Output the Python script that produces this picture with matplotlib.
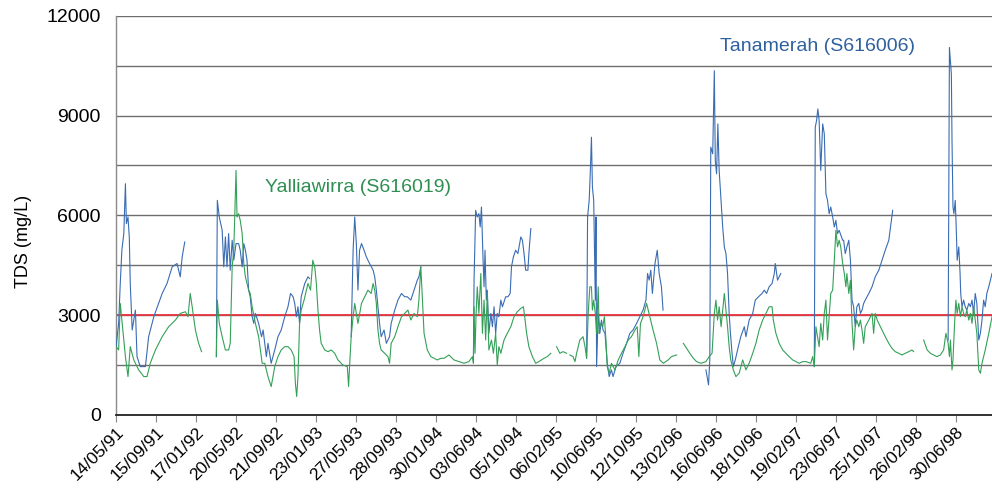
import numpy as np
import pandas as pd
import matplotlib
matplotlib.use('Agg')
import matplotlib.pyplot as plt

plt.rcParams['font.family'] = ['Liberation Sans', 'DejaVu Sans']

# days since 14/05/91, TDS in mg/L (nan = no record)
tan_day = [0, 8, 13, 18, 24, 29, 32, 37, 41, 44, 50, 60, 65, 75, 91, 101, 117, 132, 143, 158, 174, 189, 199, 205, 213,
           260,
           311, 314, 320, 329, 334, 339, 344, 349, 354, 360, 365, 372, 380, 385, 391, 396, 401, 406, 411, 416, 422, 427, 432, 442,
           451, 456, 466, 471, 481, 492, 502, 512, 523, 533, 541, 549, 554, 559, 564, 569, 574, 585, 595, 600,
           660,
           729, 735, 740, 745, 750, 755, 761, 769, 776, 786, 797, 802, 807, 812, 817, 822, 831, 838, 848, 853, 864, 874, 885, 895,
           903, 914, 924, 934, 939, 945,
           1020,
           1108, 1110, 1115, 1120, 1125, 1129, 1133, 1138, 1141, 1144, 1148, 1151, 1156, 1162, 1167, 1172, 1177, 1182, 1187, 1193,
           1198, 1208, 1215, 1222, 1226, 1232, 1239, 1246, 1255, 1260, 1265, 1270, 1277, 1280, 1286,
           1370,
           1459, 1462, 1467, 1471, 1474, 1477, 1481, 1486, 1488, 1490, 1495, 1500, 1505, 1510, 1516, 1523, 1529, 1536, 1541,
           1550, 1562, 1572, 1583, 1593, 1603, 1614, 1624, 1634, 1643, 1648, 1653, 1658, 1663, 1671, 1678, 1684, 1691, 1696,
           1760,
           1829, 1837, 1841, 1844, 1850, 1855, 1858, 1862, 1866, 1870, 1876, 1881, 1886, 1891, 1896, 1901, 1905, 1910, 1914,
           1920, 1927, 1937, 1948, 1953, 1963, 1974, 1982, 1992, 2003, 2010, 2017, 2025, 2034, 2041, 2044, 2051, 2061,
           2110,
           2165, 2168, 2172, 2176, 2180, 2185, 2191, 2196, 2201, 2206, 2211, 2216, 2222, 2227, 2232, 2237, 2242, 2253, 2256, 2261,
           2266, 2272, 2277, 2282, 2287, 2292, 2297, 2303, 2308, 2313, 2318, 2323, 2334, 2344, 2354, 2365, 2375, 2385, 2396, 2404, 2408,
           2500,
           2580, 2584, 2587, 2590, 2592, 2595, 2598, 2602, 2605, 2608, 2613, 2617, 2619, 2623, 2628, 2633, 2638, 2644, 2649, 2654,
           2659, 2664, 2669, 2675, 2680, 2685, 2690, 2695, 2700, 2706, 2716]
tan_tds = [2050, 2750, 3950, 4950, 5450, 6950, 5750, 5950, 5350, 3950, 2550, 3150, 1750, 1450, 1450, 2350, 2950, 3350, 3650, 3950, 4450, 4550, 4150, 4750, 5200,
           np.nan,
           1750, 6450, 5950, 5550, 4450, 5350, 4450, 5450, 4350, 5250, 4650, 5150, 5150, 4950, 4450, 5150, 4950, 4650, 3750, 3550, 2950, 2750, 3050, 2750,
           2350, 2550, 1750, 2150, 1550, 1950, 2350, 2550, 2950, 3250, 3650, 3550, 3350, 2950, 3250, 2750, 3550, 3950, 4150, 4100,
           np.nan,
           2350, 4950, 5950, 5150, 3750, 4950, 5150, 4950, 4750, 4550, 4350, 4150, 3750, 3250, 2750, 2350, 2550, 2150, 2350, 2750, 3150, 3450, 3650, 3550,
           3550, 3450, 3750, 4050, 4150, 4450,
           np.nan,
           1650, 4050, 6150, 5950, 6050, 5650, 6250, 4650, 3850, 4950, 3450, 3750, 2450, 3050, 2650, 3250, 2450, 3050, 2950, 3450,
           3250, 3550, 3550, 3650, 4450, 4750, 4950, 4850, 5350, 5250, 4850, 4350, 4350, 4850, 5600,
           np.nan,
           1700, 5950, 6450, 7450, 8350, 6850, 6450, 3450, 5950, 1450, 3050, 2450, 2850, 2550, 2450, 1550, 1150, 1350, 1150,
           1450, 1550, 1850, 2150, 2450, 2550, 2750, 2950, 3150, 3450, 4250, 4050, 4350, 3650, 4550, 4950, 4250, 3850, 3150,
           np.nan,
           1350, 900, 1650, 8050, 7850, 10350, 7650, 7250, 8750, 7350, 6450, 5650, 5050, 4850, 4250, 3050, 2450, 1850, 1450,
           1650, 1950, 2350, 2650, 2350, 2850, 3050, 3450, 3550, 3650, 3750, 3650, 3850, 3950, 4250, 4550, 4050, 4250,
           np.nan,
           1450, 8650, 8850, 9200, 8850, 7350, 8750, 8450, 6650, 6450, 6050, 6250, 5950, 5650, 5850, 5450, 5550, 5250, 5250, 4850,
           5050, 5250, 4650, 3450, 3250, 2650, 3250, 3350, 3050, 3150, 3350, 3450, 3650, 3850, 4150, 4350, 4650, 4950, 5250, 5850, 6150,
           np.nan,
           2250, 11050, 10650, 10250, 8250, 6250, 6050, 6450, 5650, 4650, 5050, 4250, 3650, 3250, 3450, 3250, 3150, 3350, 3250, 3450,
           3050, 3650, 3350, 2250, 2450, 2850, 3450, 3250, 3650, 3850, 4250]

yal_day = [0, 8, 13, 19, 29, 37, 44, 55, 70, 86, 96, 106, 122, 143, 163, 184, 199, 215, 223, 230, 236, 246, 256, 265,
           288,
           311, 314, 320, 329, 339, 349, 354, 360, 365, 372, 375, 380,
           385, 391, 396, 401, 406, 411, 416, 422, 432, 442, 453, 461,
           471, 481, 492, 502, 512, 523, 533, 543, 552, 556, 560, 564,
           569, 574, 583, 590, 595, 603, 610, 616, 621, 626, 631, 636,
           647, 657, 667, 678, 688, 703, 717, 721, 724, 729, 735, 740,
           750, 761, 771, 781, 791, 797, 802, 807, 812, 817, 822, 833,
           843, 848, 853, 864, 874, 885, 895, 905, 914, 924, 934, 939,
           945, 950, 955, 965, 976, 986, 996, 1007, 1017, 1032, 1048, 1063,
           1079, 1094, 1105, 1108, 1110, 1113, 1116, 1120, 1125, 1131, 1136, 1141,
           1146, 1151, 1156, 1164, 1170, 1177, 1182, 1187, 1193, 1203, 1213, 1224,
           1234, 1244, 1255, 1263, 1267, 1273, 1280, 1291, 1301, 1311, 1327, 1337, 1348,
           1356,
           1366, 1376, 1386, 1397, 1402, 1407, 1417, 1423, 1428, 1438, 1448, 1454,
           1459, 1464, 1469, 1474, 1477, 1481, 1486, 1490, 1495, 1498, 1500, 1509,
           1514, 1519, 1523, 1529, 1536, 1547, 1557, 1567, 1578, 1588, 1598, 1609,
           1616, 1621, 1626, 1634, 1645, 1655, 1665, 1676, 1686, 1697, 1712, 1722,
           1738, 1748, 1759, 1779, 1790, 1800, 1813, 1829, 1839, 1848, 1855, 1860,
           1865, 1870, 1876, 1881, 1886, 1891, 1896, 1901, 1906, 1914, 1922, 1932,
           1943, 1953, 1963, 1974, 1984, 1994, 2005, 2015, 2025, 2034, 2038, 2046,
           2056, 2067, 2077, 2087, 2098, 2108, 2118, 2129, 2139, 2154, 2160, 2165,
           2170, 2175, 2180, 2185, 2191, 2196, 2201, 2206, 2211, 2216, 2222, 2227,
           2232, 2237, 2242, 2247, 2253, 2258, 2263, 2266, 2272, 2277, 2282, 2287,
           2292, 2297, 2303, 2308, 2313, 2318, 2323, 2334, 2344, 2349, 2354, 2360,
           2365, 2375, 2385, 2396, 2406, 2416, 2427, 2437, 2447, 2458, 2468, 2473,
           2485, 2504, 2515, 2525, 2535, 2545, 2556, 2566, 2573, 2580, 2584, 2587,
           2592, 2595, 2600, 2604, 2608, 2613, 2618, 2623, 2628, 2633, 2638, 2644,
           2649, 2654, 2659, 2664, 2669, 2675, 2680, 2685, 2695, 2706, 2716]
yal_tds = [2050, 1950, 3350, 2750, 1750, 1150, 2050, 1650, 1350, 1150, 1150, 1550, 1950, 2350, 2650, 2850, 3050, 3100, 2950, 3650, 3250, 2550, 2150, 1900,
           np.nan,
           1750, 3450, 2750, 2350, 1950, 1950, 2150, 4450, 4950, 7350, 5950, 6050,
           5850, 5450, 4550, 4150, 3950, 3750, 3650, 3250, 2750, 2350, 1550, 1550,
           1150, 850, 1450, 1750, 1950, 2050, 2050, 1950, 1750, 950, 550, 1150,
           2750, 3150, 3450, 3750, 3950, 3750, 4650, 4450, 3950, 3150, 2550, 2150,
           1950, 1900, 1950, 1850, 1650, 1500, 1450, 850, 1450, 2350, 2950, 3350,
           2750, 3350, 3550, 3750, 3650, 3950, 3750, 3350, 2550, 2150, 1950, 1850,
           1750, 1550, 2150, 2350, 2650, 2950, 3050, 3150, 2850, 3050, 2950, 3450,
           4450, 3450, 2450, 1950, 1750, 1700, 1650, 1700, 1700, 1800, 1650, 1600,
           1550, 1600, 1750, 1550, 3250, 1850, 2950, 3850, 3050, 4250, 2450, 3450,
           2250, 3650, 1950, 2250, 1850, 2450, 1500, 2050, 1850, 2250, 2450, 2650,
           2950, 3100, 3200, 3250, 2950, 2450, 2050, 1750, 1550, 1600, 1700, 1750, 1850,
           np.nan,
           2050, 1850, 1900, 1850, np.nan, 1800, 1750, 1600, 1850, 2250, 2350, 2050,
           1700, 3050, 3850, 3850, 3150, 3450, 3050, 2450, 3850, 2450, 2750, 2650,
           2950, 2250, 1450, 1250, 1550, 1350, 1650, 1850, 2050, 2250, 2350, 2550,
           2650, 1750, 2750, 2950, 3350, 2950, 2550, 2150, 1650, 1550, 1650, 1750,
           1800, np.nan, 2150, 1850, 1700, 1600, 1550, 1600, 1750, 1850, 3050, 3450,
           2850, 3250, 2650, 3150, 3650, 3150, 2650, 2050, 1650, 1350, 1150, 1250,
           1650, 1350, 1550, 1850, 2150, 2550, 2850, 3050, 3250, 3250, 2850, 2450,
           2150, 1950, 1850, 1750, 1650, 1600, 1550, 1600, 1600, 1550, 1750, 1450,
           2650, 2350, 2050, 2750, 2250, 3050, 3450, 2250, 2950, 3650, 3750, 4650,
           5550, 5050, 5250, 5050, 4550, 4250, 3850, 4250, 3650, 4050, 2750, 1950,
           2650, 2850, 2650, 2850, 2550, 2150, 2650, 2850, 3050, 2450, 3050, 2850,
           2750, 2550, 2350, 2150, 2000, 1900, 1850, 1800, 1850, 1900, 1950, 1900,
           np.nan, 2250, 1950, 1850, 1800, 1750, 1800, 1950, 2450, 2150, 1750, 2250,
           1350, 1650, 2750, 3450, 3050, 3350, 2950, 3250, 3050, 2950, 3150, 2850,
           3050, 2750, 3250, 2850, 2450, 1350, 1250, 1550, 1950, 2450, 2950]

tick_labels = ['14/05/91', '15/09/91', '17/01/92', '20/05/92', '21/09/92', '23/01/93', '27/05/93', '28/09/93',
               '30/01/94', '03/06/94', '05/10/94', '06/02/95', '10/06/95', '12/10/95', '13/02/96', '16/06/96',
               '18/10/96', '19/02/97', '23/06/97', '25/10/97', '26/02/98', '30/06/98']
limit_tds = 3000

start = pd.Timestamp('1991-05-14')
def to_dates(days):
    return start + pd.to_timedelta(np.array(days), unit='D')

fig = plt.figure(figsize=(9.92, 4.95), dpi=100)
ax = fig.add_axes([0.117, 0.162, 0.883, 0.806])

ax.plot(to_dates(tan_day), tan_tds, color='#3a6cb3', lw=0.8, zorder=3)
ax.plot(to_dates(yal_day), yal_tds, color='#34a058', lw=0.8, zorder=4)
ax.axhline(limit_tds, color='#e8343f', lw=1.3, zorder=2)

ax.text(to_dates([1872])[0], 11070, 'Tanamerah (S616006)', color='#2f619f', fontsize=14, va='center')
ax.text(to_dates([462])[0], 6840, 'Yalliawirra (S616019)', color='#2f8f52', fontsize=14, va='center')

ax.set_ylim(0, 12000)
ax.set_xlim(start, to_dates([2716])[0])
ax.set_yticks(np.arange(0, 12001, 3000))
ax.set_yticks(np.arange(0, 12001, 1500), minor=True)
ax.grid(axis='y', which='both', color='#6e6e6e', lw=1.0, zorder=1)
ax.set_axisbelow(True)
ax.tick_params(axis='y', which='both', length=0, pad=11, labelsize=14)

tick_pos = pd.to_datetime(tick_labels, format='%d/%m/%y')
ax.set_xticks(tick_pos)
ax.set_xticklabels(tick_labels, rotation=45, ha='right', va='top', rotation_mode='anchor', fontsize=12.5)
ax.tick_params(axis='x', length=5, width=0.8, color='#888888', pad=2)

ax.set_ylabel('TDS (mg/L)', fontsize=13)
ax.yaxis.set_label_coords(-0.096, 0.434)

ax.spines['top'].set_visible(False)
ax.spines['right'].set_visible(False)
ax.spines['left'].set_color('#8a8a8a')
ax.spines['left'].set_linewidth(1.0)
ax.spines['bottom'].set_color('#222222')
ax.spines['bottom'].set_linewidth(1.3)

fig.savefig('out.png', dpi=100)
